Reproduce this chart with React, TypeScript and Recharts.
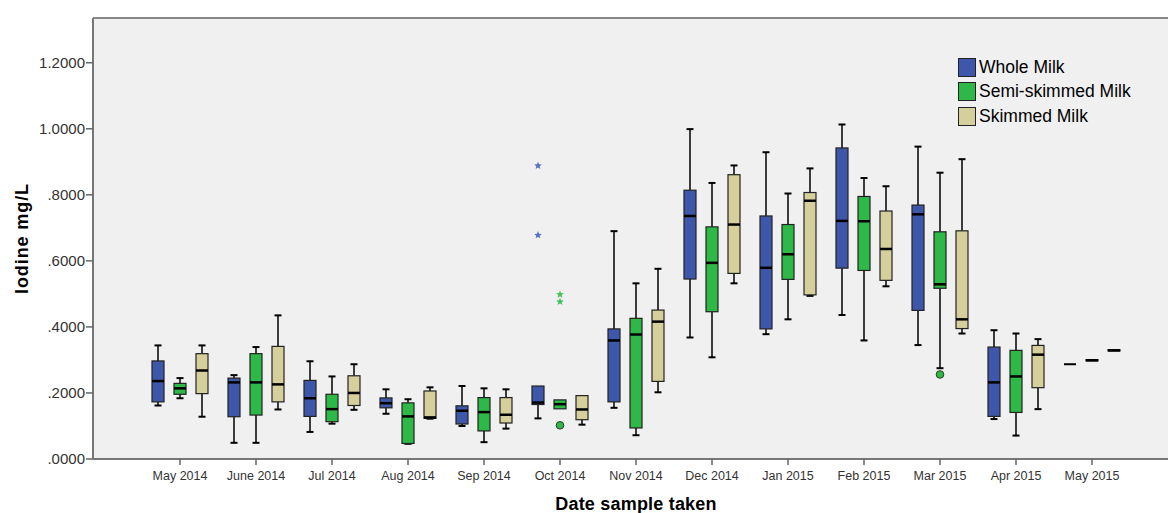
import React from 'react';
import {
  ComposedChart,
  Bar,
  Scatter,
  XAxis,
  YAxis,
  CartesianGrid,
  ReferenceLine,
  Legend,
  Label
} from 'recharts';

const months = [
  'May 2014', 'June 2014', 'Jul 2014', 'Aug 2014', 'Sep 2014', 'Oct 2014', 'Nov 2014',
  'Dec 2014', 'Jan 2015', 'Feb 2015', 'Mar 2015', 'Apr 2015', 'May 2015'
];

// [min, q1, median, q3, max] for each month
const wholeMilk = [
  [0.162, 0.173, 0.236, 0.297, 0.344],
  [0.049, 0.128, 0.232, 0.245, 0.254],
  [0.082, 0.129, 0.184, 0.238, 0.296],
  [0.137, 0.155, 0.169, 0.185, 0.211],
  [0.100, 0.106, 0.146, 0.161, 0.221],
  [0.123, 0.165, 0.171, 0.221, 0.221],
  [0.155, 0.173, 0.359, 0.394, 0.690],
  [0.368, 0.545, 0.736, 0.814, 0.999],
  [0.378, 0.394, 0.579, 0.736, 0.929],
  [0.436, 0.578, 0.721, 0.942, 1.013],
  [0.345, 0.450, 0.741, 0.769, 0.946],
  [0.121, 0.129, 0.232, 0.339, 0.390],
  [0.287, 0.287, 0.287, 0.287, 0.287]
];

const semiSkimmedMilk = [
  [0.184, 0.196, 0.214, 0.229, 0.245],
  [0.049, 0.133, 0.232, 0.319, 0.339],
  [0.107, 0.113, 0.151, 0.196, 0.250],
  [0.046, 0.047, 0.129, 0.170, 0.181],
  [0.051, 0.085, 0.142, 0.186, 0.214],
  [0.152, 0.152, 0.166, 0.179, 0.179],
  [0.072, 0.094, 0.377, 0.426, 0.532],
  [0.308, 0.446, 0.594, 0.703, 0.836],
  [0.423, 0.544, 0.620, 0.710, 0.804],
  [0.359, 0.571, 0.720, 0.795, 0.851],
  [0.275, 0.517, 0.529, 0.688, 0.867],
  [0.071, 0.141, 0.250, 0.329, 0.380],
  [0.297, 0.297, 0.299, 0.301, 0.301]
];

const skimmedMilk = [
  [0.128, 0.198, 0.268, 0.319, 0.344],
  [0.150, 0.173, 0.226, 0.341, 0.435],
  [0.149, 0.162, 0.200, 0.252, 0.287],
  [0.122, 0.123, 0.126, 0.206, 0.217],
  [0.092, 0.109, 0.134, 0.186, 0.211],
  [0.104, 0.119, 0.150, 0.192, 0.192],
  [0.202, 0.235, 0.416, 0.451, 0.576],
  [0.532, 0.562, 0.710, 0.861, 0.889],
  [0.494, 0.497, 0.782, 0.807, 0.880],
  [0.523, 0.541, 0.636, 0.751, 0.826],
  [0.380, 0.395, 0.423, 0.691, 0.908],
  [0.151, 0.216, 0.316, 0.344, 0.363],
  [0.327, 0.327, 0.329, 0.331, 0.331]
];

// extreme values (stars) and outliers (circles)
const wholeExtremes = [
  { month: 'Oct 2014', value: 0.888 },
  { month: 'Oct 2014', value: 0.678 }
];
const semiExtremes = [
  { month: 'Oct 2014', value: 0.498 },
  { month: 'Oct 2014', value: 0.476 }
];
const semiOutliers = [
  { month: 'Oct 2014', value: 0.102 },
  { month: 'Mar 2015', value: 0.256 }
];

const yTicks = [0, 0.2, 0.4, 0.6, 0.8, 1.0, 1.2];

const series = [
  { key: 'whole', name: 'Whole Milk', color: '#3F57AA', stats: wholeMilk },
  { key: 'semi', name: 'Semi-skimmed Milk', color: '#2EB848', stats: semiSkimmedMilk },
  { key: 'skim', name: 'Skimmed Milk', color: '#D4CF9B', stats: skimmedMilk }
];

const FONT = 'Arial, "Liberation Sans", sans-serif';
const Y_MAX = 1.3355;
const BAR_SIZE = 12;
const BAR_GAP = 10;
const BAND = 76;
const PAD_LEFT = 49;
const PAD_RIGHT = 38;
const STEP = (BAR_SIZE + BAR_GAP) / BAND;

const data = months.map((month, i) => {
  const row: any = { month };
  series.forEach(s => {
    const st = s.stats[i];
    row[s.key] = [st[0], st[4]];
    row[s.key + 'Stats'] = st;
  });
  return row;
});

const toPoints = (list: { month: string; value: number }[], shift: number) =>
  list.map(p => ({ x: months.indexOf(p.month) + shift, y: p.value }));

const starPath = (cx: number, cy: number, r: number) => {
  let d = '';
  for (let i = 0; i < 10; i++) {
    const rad = i % 2 === 0 ? r : r * 0.45;
    const a = -Math.PI / 2 + (i * Math.PI) / 5;
    d += (i === 0 ? 'M' : 'L') + (cx + rad * Math.cos(a)).toFixed(2) + ',' + (cy + rad * Math.sin(a)).toFixed(2);
  }
  return d + 'Z';
};

const makeBoxShape = (statsKey: string, color: string) => (props: any) => {
  const { x, y, width, height, payload } = props;
  const [mn, q1, md, q3, mx] = payload[statsKey];
  const top = Math.min(y, y + height);
  const bottom = Math.max(y, y + height);
  const py = (v: number) => (mx === mn ? top : bottom - ((v - mn) / (mx - mn)) * (bottom - top));
  const cx = x + width / 2;
  const cap = 3.5;
  return (
    <g>
      {mx > q3 && (
        <g stroke="#000" strokeWidth={1.5}>
          <line x1={cx} x2={cx} y1={py(mx)} y2={py(q3)} />
          <line x1={cx - cap} x2={cx + cap} y1={py(mx)} y2={py(mx)} strokeWidth={2} />
        </g>
      )}
      {q1 > mn && (
        <g stroke="#000" strokeWidth={1.5}>
          <line x1={cx} x2={cx} y1={py(q1)} y2={py(mn)} />
          <line x1={cx - cap} x2={cx + cap} y1={py(mn)} y2={py(mn)} strokeWidth={2} />
        </g>
      )}
      {q3 > q1 && (
        <rect x={x} y={py(q3)} width={width} height={py(q1) - py(q3)} fill={color} stroke="#222" strokeWidth={1.2} />
      )}
      <line x1={x} x2={x + width} y1={py(md)} y2={py(md)} stroke="#000" strokeWidth={q3 > q1 ? 2.5 : 2} />
    </g>
  );
};

const LegendBox = () => (
  <div style={{ fontFamily: FONT, fontSize: 17.5, color: '#000' }}>
    {series.map(s => (
      <div key={s.key} style={{ display: 'flex', alignItems: 'center', height: 24.5 }}>
        <span
          style={{
            display: 'inline-block',
            width: 16,
            height: 17,
            background: s.color,
            border: '1px solid #222',
            marginRight: 3
          }}
        />
        <span>{s.name}</span>
      </div>
    ))}
  </div>
);

export default function App() {
  return (
    <div style={{ width: 1168, height: 513, overflow: 'hidden', fontFamily: FONT }}>
      <style>{'body { margin: 0; }'}</style>
      <ComposedChart
        width={1168}
        height={513}
        data={data}
        margin={{ top: 18, right: 0, bottom: 0, left: 0 }}
        barSize={BAR_SIZE}
        barGap={BAR_GAP}
      >
        <CartesianGrid fill="#F0F0F0" horizontal={false} vertical={false} />
        <ReferenceLine y={Y_MAX} stroke="#888" strokeWidth={2} />
        <XAxis
          dataKey="month"
          interval={0}
          padding={{ left: PAD_LEFT, right: PAD_RIGHT }}
          height={54}
          tickSize={6}
          tickMargin={6}
          axisLine={{ stroke: '#777', strokeWidth: 2 }}
          tickLine={{ stroke: '#666', strokeWidth: 1.5 }}
          tick={{ fill: '#333', fontSize: 12.5, fontFamily: FONT }}
        >
          <Label
            content={({ viewBox }: any) => (
              <text
                x={636}
                y={viewBox.y + 51}
                textAnchor="middle"
                fontFamily={FONT}
                fontSize={18}
                letterSpacing={0.2}
                fontWeight="bold"
                fill="#000"
              >
                Date sample taken
              </text>
            )}
          />
        </XAxis>
        <XAxis
          xAxisId="pts"
          type="number"
          dataKey="x"
          domain={[-(PAD_LEFT + BAND / 2) / BAND, (months.length * BAND - BAND / 2 + PAD_RIGHT) / BAND]}
          hide
        />
        <YAxis
          width={93}
          domain={[0, Y_MAX]}
          ticks={yTicks}
          tickSize={7}
          tickMargin={1}
          axisLine={{ stroke: '#777', strokeWidth: 2 }}
          tickLine={{ stroke: '#666', strokeWidth: 1.5 }}
          tick={{ fill: '#333', fontSize: 15, fontFamily: FONT }}
          tickFormatter={(v: number) => v.toFixed(4).replace(/^0/, '')}
        >
          <Label
            content={({ viewBox }: any) => (
              <text
                transform={`translate(${viewBox.x + 27.5}, ${viewBox.y + viewBox.height / 2}) rotate(-90)`}
                textAnchor="middle"
                fontFamily={FONT}
                fontSize={18}
                letterSpacing={0.9}
                fontWeight="bold"
                fill="#000"
              >
                Iodine mg/L
              </text>
            )}
          />
        </YAxis>
        {series.map(s => (
          <Bar
            key={s.key}
            dataKey={s.key}
            name={s.name}
            fill={s.color}
            isAnimationActive={false}
            shape={makeBoxShape(s.key + 'Stats', s.color)}
          />
        ))}
        <Scatter
          xAxisId="pts"
          data={toPoints(wholeExtremes, -STEP)}
          dataKey="y"
          isAnimationActive={false}
          legendType="none"
          shape={(p: any) => <path d={starPath(p.cx, p.cy, 4)} fill="#5B70C4" />}
        />
        <Scatter
          xAxisId="pts"
          data={toPoints(semiExtremes, 0)}
          dataKey="y"
          isAnimationActive={false}
          legendType="none"
          shape={(p: any) => <path d={starPath(p.cx, p.cy, 4)} fill="#45C25E" />}
        />
        <Scatter
          xAxisId="pts"
          data={toPoints(semiOutliers, 0)}
          dataKey="y"
          isAnimationActive={false}
          legendType="none"
          shape={(p: any) => <circle cx={p.cx} cy={p.cy} r={3.8} fill="#2EB848" stroke="#224422" strokeWidth={1} />}
        />
        <Legend
          layout="vertical"
          align="center"
          verticalAlign="middle"
          content={() => <LegendBox />}
          wrapperStyle={{ left: 958, top: 55, width: 210, height: 80 }}
        />
      </ComposedChart>
    </div>
  );
}
